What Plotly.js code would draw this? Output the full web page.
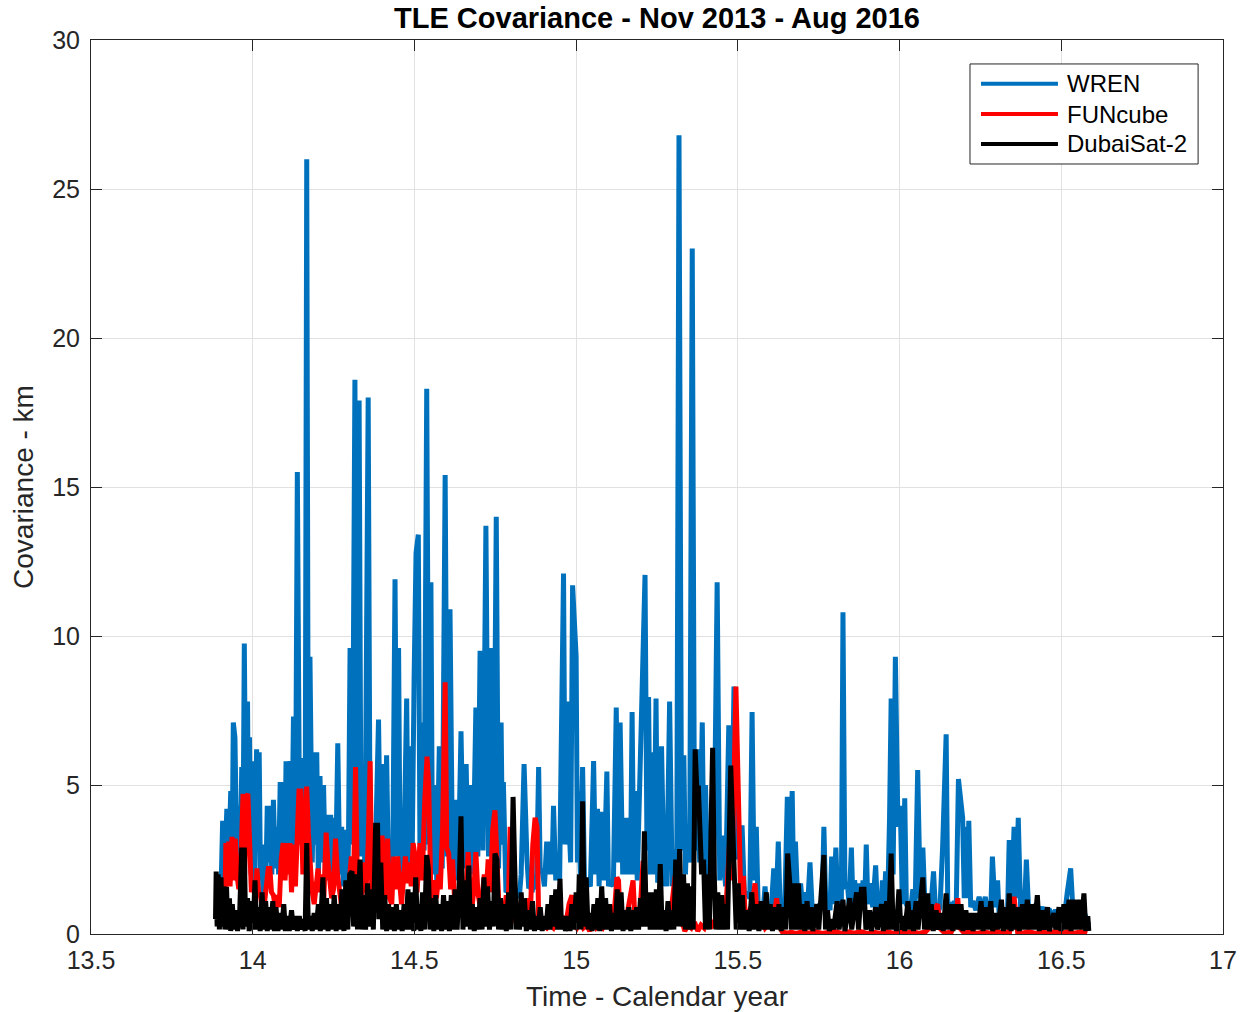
<!DOCTYPE html>
<html>
<head>
<meta charset="utf-8">
<script src="https://cdn.plot.ly/plotly-3.0.1.min.js"></script>
<style>
  html, body { margin: 0; padding: 0; background: #ffffff; }
  #chart { width: 1242px; height: 1012px; }
</style>
</head>
<body>
<div id="chart"></div>
<script>
// TLE covariance (km) against calendar year (yy.fraction) for three satellites

const seriesNames = ["WREN", "FUNcube", "DubaiSat-2"];
const seriesColors = ["#0072BD", "#FF0000", "#000000"];

const xTickVals = [13.5, 14, 14.5, 15, 15.5, 16, 16.5, 17];
const xTickText = ["13.5", "14", "14.5", "15", "15.5", "16", "16.5", "17"];
const yTickVals = [0, 5, 10, 15, 20, 25, 30];
const yTickText = ["0", "5", "10", "15", "20", "25", "30"];

// WREN
const wrenT = [
  13.900,13.907,13.913,13.920,13.926,13.932,13.936,13.940,13.945,13.952,
  13.959,13.962,13.966,13.970,13.974,13.979,13.984,13.987,13.990,13.995,
  13.999,14.006,14.012,14.016,14.020,14.024,14.028,14.032,14.036,14.040,
  14.045,14.049,14.054,14.059,14.064,14.070,14.076,14.080,14.085,14.090,
  14.095,14.099,14.103,14.109,14.115,14.120,14.126,14.132,14.138,14.145,
  14.150,14.157,14.162,14.167,14.172,14.177,14.184,14.190,14.194,14.198,
  14.203,14.208,14.213,14.219,14.225,14.231,14.236,14.241,14.245,14.249,
  14.256,14.263,14.269,14.275,14.280,14.284,14.292,14.296,14.301,14.308,
  14.316,14.322,14.329,14.335,14.342,14.347,14.357,14.363,14.373,14.380,
  14.389,14.395,14.402,14.408,14.414,14.420,14.427,14.433,14.440,14.446,
  14.451,14.456,14.461,14.468,14.476,14.481,14.487,14.493,14.499,14.505,
  14.512,14.517,14.523,14.530,14.538,14.545,14.551,14.556,14.561,14.569,
  14.577,14.586,14.595,14.602,14.610,14.618,14.626,14.635,14.644,14.652,
  14.660,14.666,14.672,14.681,14.690,14.696,14.703,14.712,14.721,14.729,
  14.737,14.745,14.753,14.760,14.768,14.772,14.775,14.783,14.791,14.798,
  14.805,14.811,14.818,14.824,14.830,14.839,14.848,14.853,14.858,14.864,
  14.870,14.877,14.884,14.889,14.894,14.902,14.909,14.915,14.920,14.925,
  14.930,14.937,14.945,14.949,14.953,14.961,14.966,14.971,14.976,14.983,
  14.989,15.000,15.004,15.007,15.013,15.020,15.026,15.033,15.044,15.054,
  15.060,15.066,15.071,15.076,15.086,15.095,15.100,15.105,15.115,15.124,
  15.130,15.136,15.144,15.152,15.157,15.162,15.168,15.173,15.178,15.182,
  15.189,15.196,15.206,15.213,15.219,15.224,15.229,15.234,15.240,15.247,
  15.252,15.258,15.264,15.272,15.276,15.280,15.289,15.297,15.305,15.311,
  15.318,15.326,15.333,15.338,15.343,15.351,15.359,15.366,15.374,15.382,
  15.390,15.395,15.400,15.407,15.415,15.425,15.436,15.444,15.452,15.462,
  15.472,15.480,15.488,15.500,15.513,15.520,15.529,15.537,15.544,15.550,
  15.557,15.563,15.570,15.577,15.584,15.590,15.596,15.603,15.611,15.618,
  15.625,15.631,15.637,15.645,15.653,15.660,15.668,15.673,15.678,15.686,
  15.694,15.701,15.709,15.715,15.723,15.730,15.738,15.746,15.754,15.760,
  15.766,15.772,15.779,15.785,15.790,15.796,15.803,15.809,15.815,15.820,
  15.825,15.831,15.838,15.844,15.851,15.856,15.861,15.869,15.877,15.882,
  15.887,15.892,15.897,15.902,15.908,15.917,15.926,15.932,15.938,15.942,
  15.947,15.952,15.957,15.963,15.969,15.974,15.980,15.987,15.995,16.002,
  16.009,16.016,16.021,16.026,16.033,16.041,16.048,16.056,16.064,16.072,
  16.079,16.087,16.096,16.105,16.111,16.118,16.125,16.133,16.144,16.149,
  16.154,16.161,16.169,16.175,16.182,16.195,16.200,16.205,16.209,16.214,
  16.220,16.226,16.236,16.246,16.255,16.265,16.271,16.277,16.282,16.287,
  16.295,16.303,16.308,16.313,16.320,16.329,16.334,16.339,16.346,16.354,
  16.360,16.367,16.374,16.380,16.386,16.392,16.399,16.406,16.413,16.421,
  16.431,16.441,16.451,16.462,16.472,16.482,16.492,16.503,16.510,16.518,
  16.529,16.536,16.544,16.555,16.565,16.575,16.585
];
const wrenV = [
  0.5,3.8,2.0,4.2,2.4,4.8,2.2,7.1,6.6,1.8,
  4.3,2.5,5.6,3.0,9.75,3.2,7.8,2.8,6.6,2.0,
  5.8,1.6,6.2,2.8,6.1,1.8,3.0,1.2,2.2,1.4,
  4.3,2.4,4.3,2.0,4.5,2.2,3.6,2.0,5.1,2.4,
  5.1,2.0,5.8,2.6,5.8,2.0,7.3,2.8,15.5,3.0,
  5.3,5.9,2.2,26.0,3.0,9.3,2.4,6.1,3.0,6.1,
  1.8,5.3,2.4,5.0,1.8,4.0,2.3,4.0,1.8,3.9,
  1.8,6.4,2.0,3.6,1.6,3.5,1.2,3.0,9.6,3.0,
  18.6,3.5,17.9,2.6,4.8,2.0,18.0,2.6,1.5,3.0,
  7.2,2.4,5.7,2.8,6.0,1.8,1.5,2.5,11.9,2.6,
  9.6,1.8,1.4,3.0,7.9,2.2,6.3,2.6,8.6,12.8,
  13.4,3.0,7.1,2.8,18.3,3.0,11.8,2.0,5.0,1.8,
  6.3,2.2,15.4,2.6,10.9,2.0,4.5,1.8,6.8,2.2,
  5.7,1.8,5.0,2.0,7.6,2.6,9.5,2.8,13.7,2.6,
  9.6,2.6,14.0,2.2,7.1,3.0,5.1,1.4,1.5,1.0,
  2.2,1.4,1.5,1.2,2.0,5.7,2.5,1.6,1.6,1.4,
  2.0,1.5,5.6,2.0,2.2,1.6,3.1,2.0,3.1,2.0,
  4.3,1.8,2.7,1.8,5.5,12.1,3.0,7.8,4.2,2.4,
  11.7,9.3,2.4,4.8,2.0,5.6,1.6,1.8,1.6,5.8,
  2.0,4.2,1.6,4.1,1.8,5.45,1.6,1.8,1.6,7.6,
  2.4,7.1,2.0,3.9,2.0,3.9,2.0,7.45,2.0,4.8,
  1.8,4.8,10.2,12.05,2.8,7.95,2.0,6.1,2.0,7.9,
  1.8,1.8,6.3,1.6,2.85,1.6,7.8,1.6,2.85,1.8,
  26.8,2.8,6.0,2.0,3.7,2.4,23.0,2.8,6.2,2.4,
  7.1,2.4,5.0,1.6,1.35,1.2,11.8,1.8,3.3,1.6,
  7.0,2.4,8.3,2.5,3.65,1.4,1.35,1.2,7.45,1.8,
  3.6,0.8,0.9,0.6,1.6,0.7,1.0,0.8,2.2,0.9,
  3.1,0.8,1.2,0.9,4.6,1.5,4.8,1.2,3.1,0.8,
  1.7,0.8,1.4,0.8,2.4,0.8,0.6,0.9,1.0,0.8,
  3.6,0.9,1.0,0.8,2.6,1.0,2.9,1.0,1.8,1.0,
  10.8,1.5,1.75,1.0,2.9,1.0,1.8,0.9,1.7,1.0,
  1.8,1.0,3.0,1.0,1.7,0.9,2.3,0.8,0.9,0.8,
  1.8,1.0,2.1,1.0,3.9,7.9,2.0,9.3,3.6,4.3,
  1.0,4.55,1.0,0.9,0.7,1.5,0.9,5.5,1.2,2.9,
  0.8,0.7,0.8,2.1,0.8,0.7,0.9,2.9,6.7,1.0,
  1.0,0.8,1.1,0.8,5.2,3.9,1.2,3.6,1.2,3.8,
  0.9,1.1,0.8,1.25,0.8,1.25,0.8,1.1,0.8,2.6,
  0.9,1.8,0.6,0.5,0.6,0.7,0.8,3.15,1.0,3.6,
  1.2,3.9,0.9,1.0,0.8,2.5,0.8,0.9,0.7,1.0,
  0.7,0.9,0.6,0.85,0.6,0.8,0.6,0.7,0.6,1.36,
  2.2,0.8,1.1,0.7,0.9,0.6,0.3
];

// FUNcube
const funcubeT = [
  13.913,13.917,13.921,13.926,13.930,13.936,13.941,13.946,13.951,13.957,
  13.964,13.970,13.975,13.980,13.985,13.990,13.996,14.002,14.008,14.013,
  14.018,14.024,14.030,14.036,14.042,14.048,14.053,14.058,14.064,14.070,
  14.076,14.082,14.088,14.094,14.100,14.106,14.111,14.115,14.120,14.126,
  14.132,14.138,14.143,14.149,14.155,14.161,14.167,14.172,14.177,14.183,
  14.190,14.196,14.202,14.208,14.214,14.220,14.227,14.232,14.238,14.244,
  14.250,14.256,14.262,14.268,14.274,14.280,14.286,14.292,14.298,14.305,
  14.312,14.318,14.324,14.330,14.336,14.343,14.350,14.357,14.363,14.368,
  14.373,14.378,14.385,14.392,14.400,14.406,14.411,14.417,14.423,14.430,
  14.436,14.442,14.448,14.454,14.460,14.466,14.472,14.478,14.484,14.490,
  14.496,14.502,14.508,14.517,14.524,14.532,14.539,14.544,14.550,14.556,
  14.562,14.568,14.575,14.580,14.587,14.595,14.600,14.606,14.612,14.618,
  14.624,14.630,14.636,14.644,14.652,14.660,14.666,14.672,14.678,14.684,
  14.690,14.696,14.702,14.709,14.716,14.722,14.728,14.735,14.742,14.749,
  14.755,14.761,14.768,14.776,14.784,14.790,14.796,14.802,14.810,14.818,
  14.826,14.834,14.842,14.850,14.858,14.866,14.873,14.879,14.884,14.892,
  14.900,14.910,14.920,14.930,14.940,14.950,14.960,14.968,14.978,14.987,
  14.994,15.002,15.012,15.022,15.032,15.042,15.052,15.062,15.072,15.082,
  15.092,15.100,15.110,15.120,15.126,15.131,15.136,15.145,15.155,15.163,
  15.170,15.176,15.182,15.190,15.198,15.207,15.213,15.220,15.228,15.236,
  15.244,15.252,15.260,15.268,15.276,15.284,15.292,15.300,15.306,15.312,
  15.320,15.328,15.336,15.346,15.356,15.366,15.376,15.386,15.396,15.406,
  15.416,15.426,15.436,15.446,15.456,15.464,15.470,15.476,15.482,15.488,
  15.494,15.499,15.505,15.511,15.517,15.523,15.530,15.537,15.545,15.553,
  15.560,15.568,15.576,15.584,15.592,15.600,15.608,15.615,15.620,15.627,
  15.637,15.650,15.665,15.680,15.700,15.720,15.740,15.760,15.780,15.800,
  15.820,15.840,15.860,15.880,15.900,15.920,15.940,15.960,15.980,16.000,
  16.020,16.040,16.060,16.080,16.100,16.112,16.118,16.124,16.140,16.160,
  16.175,16.180,16.186,16.200,16.220,16.240,16.260,16.280,16.300,16.320,
  16.340,16.350,16.354,16.358,16.365,16.380,16.400,16.420,16.440,16.460,
  16.480,16.500,16.520,16.540,16.560,16.580
];
const funcubeV = [
  0.3,3.05,1.8,3.1,1.6,3.26,1.8,3.2,2.0,1.5,
  2.5,4.7,2.0,4.6,4.7,2.7,1.4,1.8,1.0,2.2,
  1.4,1.3,0.8,1.0,1.5,2.2,2.2,1.4,1.3,0.9,
  1.3,0.9,2.5,3.05,1.8,3.05,2.0,3.05,1.4,3.0,
  1.6,3.2,4.8,4.8,2.0,3.5,4.95,3.4,2.6,1.5,
  1.0,1.5,2.2,1.4,2.0,1.2,3.4,2.5,1.6,1.2,
  1.5,3.2,2.0,1.4,1.0,1.3,1.2,0.9,2.0,2.6,
  1.8,5.6,1.4,1.3,0.9,2.4,1.4,3.0,5.8,1.4,
  1.2,0.9,2.5,1.5,3.3,1.6,1.3,3.2,1.2,1.0,
  2.6,1.5,2.6,1.6,1.0,1.8,2.6,1.7,2.4,1.6,
  3.05,2.6,1.4,3.05,1.8,4.5,5.95,5.1,1.8,1.2,
  1.8,1.2,2.0,1.5,3.5,8.45,2.9,2.7,1.5,2.5,
  1.2,1.5,0.8,1.8,1.2,1.5,2.75,1.4,0.9,1.5,
  2.75,1.4,1.0,1.2,2.0,1.4,2.5,1.4,3.5,4.15,
  2.5,1.0,0.5,0.6,1.3,0.8,3.6,1.0,0.4,0.5,
  0.3,0.9,0.5,1.2,0.5,3.0,3.9,3.6,0.6,0.2,
  0.3,0.2,0.3,0.2,0.4,0.2,0.6,0.3,1.0,1.3,
  0.3,0.2,0.4,0.2,0.3,0.1,0.4,0.2,0.3,0.2,
  0.4,0.2,0.6,1.0,1.9,1.8,0.5,0.2,0.5,1.0,
  1.6,1.8,0.4,0.2,0.8,2.45,1.2,0.4,0.6,0.3,
  0.8,0.3,0.6,0.2,0.5,0.3,0.6,1.5,1.95,0.8,
  0.3,0.4,0.1,0.3,0.2,0.4,0.1,0.3,0.2,0.5,
  0.2,0.4,0.3,0.6,0.4,1.0,2.5,3.4,1.8,5.5,
  8.3,5.9,2.0,0.3,1.95,0.5,0.2,0.8,1.0,1.7,
  0.6,0.2,0.4,0.2,0.3,0.5,0.3,0.8,1.2,0.3,
  0.08,0.03,0.06,0.02,0.07,0.03,0.08,0.02,0.05,0.09,
  0.02,0.07,0.03,0.08,0.02,0.06,0.03,0.09,0.02,0.07,
  0.03,0.08,0.02,0.07,0.3,0.9,1.0,0.2,0.03,0.07,
  0.5,1.2,0.2,0.03,0.08,0.02,0.07,0.03,0.09,0.02,
  0.07,0.8,1.25,0.8,0.07,0.03,0.08,0.02,0.07,0.03,
  0.08,0.02,0.07,0.03,0.07,0.02
];

// DubaiSat-2
const dubaisatT = [
  13.885,13.887,13.890,13.893,13.897,13.902,13.906,13.910,13.914,13.919,
  13.923,13.928,13.932,13.937,13.942,13.948,13.953,13.960,13.966,13.970,
  13.974,13.978,13.984,13.989,13.995,14.001,14.007,14.012,14.018,14.023,
  14.029,14.034,14.040,14.045,14.050,14.056,14.062,14.067,14.072,14.078,
  14.084,14.090,14.096,14.101,14.107,14.113,14.120,14.126,14.132,14.138,
  14.144,14.150,14.156,14.162,14.167,14.172,14.178,14.184,14.190,14.196,
  14.203,14.209,14.217,14.222,14.228,14.233,14.240,14.246,14.252,14.258,
  14.264,14.270,14.276,14.282,14.288,14.294,14.300,14.307,14.312,14.318,
  14.324,14.332,14.337,14.343,14.349,14.355,14.361,14.368,14.373,14.380,
  14.386,14.390,14.396,14.402,14.408,14.414,14.420,14.426,14.432,14.438,
  14.444,14.450,14.456,14.462,14.468,14.474,14.480,14.486,14.492,14.498,
  14.504,14.510,14.514,14.520,14.525,14.531,14.538,14.543,14.548,14.554,
  14.560,14.566,14.572,14.578,14.584,14.590,14.596,14.602,14.608,14.614,
  14.620,14.626,14.632,14.638,14.644,14.650,14.656,14.662,14.668,14.673,
  14.679,14.685,14.691,14.697,14.703,14.709,14.715,14.720,14.726,14.732,
  14.738,14.744,14.749,14.755,14.760,14.766,14.772,14.778,14.784,14.791,
  14.798,14.805,14.810,14.815,14.820,14.825,14.830,14.836,14.840,14.846,
  14.852,14.858,14.865,14.871,14.877,14.883,14.889,14.895,14.901,14.907,
  14.913,14.919,14.925,14.931,14.937,14.943,14.950,14.955,14.961,14.967,
  14.975,14.981,14.987,14.993,15.000,15.005,15.010,15.015,15.020,15.025,
  15.031,15.037,15.043,15.049,15.055,15.061,15.067,15.073,15.079,15.085,
  15.091,15.097,15.103,15.109,15.115,15.121,15.127,15.133,15.139,15.145,
  15.151,15.157,15.163,15.169,15.175,15.181,15.187,15.193,15.199,15.205,
  15.211,15.217,15.223,15.229,15.236,15.242,15.248,15.254,15.260,15.266,
  15.272,15.278,15.284,15.290,15.296,15.302,15.308,15.314,15.320,15.326,
  15.332,15.338,15.344,15.350,15.356,15.362,15.368,15.373,15.378,15.383,
  15.388,15.394,15.400,15.405,15.412,15.417,15.422,15.427,15.432,15.438,
  15.444,15.450,15.456,15.462,15.468,15.473,15.478,15.484,15.490,15.495,
  15.501,15.507,15.514,15.520,15.528,15.535,15.543,15.550,15.558,15.565,
  15.572,15.580,15.588,15.594,15.600,15.607,15.614,15.620,15.627,15.634,
  15.641,15.648,15.654,15.660,15.666,15.673,15.680,15.687,15.694,15.700,
  15.707,15.714,15.720,15.726,15.732,15.744,15.750,15.766,15.771,15.777,
  15.783,15.790,15.796,15.807,15.813,15.825,15.831,15.846,15.852,15.867,
  15.873,15.882,15.890,15.896,15.907,15.913,15.926,15.932,15.944,15.950,
  15.960,15.966,15.974,15.980,15.985,15.990,15.998,16.004,16.010,16.016,
  16.026,16.032,16.036,16.043,16.051,16.057,16.067,16.072,16.077,16.087,
  16.092,16.098,16.104,16.113,16.119,16.129,16.135,16.144,16.150,16.159,
  16.165,16.175,16.181,16.190,16.196,16.205,16.211,16.221,16.227,16.236,
  16.242,16.252,16.258,16.267,16.273,16.282,16.288,16.298,16.304,16.315,
  16.321,16.329,16.334,16.339,16.345,16.351,16.357,16.364,16.370,16.380,
  16.386,16.395,16.401,16.410,16.416,16.426,16.432,16.441,16.447,16.457,
  16.463,16.477,16.483,16.493,16.499,16.508,16.514,16.524,16.530,16.539,
  16.545,16.555,16.561,16.570,16.576,16.582,16.585
];
const dubaisatV = [
  0.5,2.1,0.25,2.0,0.15,1.9,0.25,1.6,0.15,1.58,
  0.15,1.2,0.1,1.0,0.15,0.8,0.1,0.8,2.9,0.15,
  2.9,0.25,1.2,0.1,1.1,0.15,1.8,0.15,0.9,0.1,
  1.4,0.15,1.1,0.1,0.9,0.15,1.1,0.1,0.9,0.1,
  0.7,0.15,1.0,0.1,0.6,0.1,0.8,0.15,0.6,0.1,
  0.6,0.15,0.5,0.1,3.05,0.15,0.6,0.1,0.7,0.15,
  1.0,0.1,1.9,0.15,1.2,0.1,1.0,0.15,1.3,0.1,
  1.0,0.15,1.5,0.1,1.8,0.15,2.0,2.1,0.25,2.0,
  0.15,2.5,0.15,1.3,0.15,1.7,0.25,1.5,0.15,3.65,
  3.65,0.5,2.4,0.15,1.3,0.1,1.0,0.15,0.9,0.1,
  1.0,0.15,0.8,0.1,1.0,0.15,1.5,0.15,1.4,0.1,
  1.9,0.15,1.0,0.1,1.4,0.15,2.65,2.2,0.15,1.2,
  0.1,1.3,0.15,1.0,0.1,1.3,0.15,1.1,0.1,1.3,
  0.15,1.5,0.15,1.5,3.95,0.15,1.8,0.25,2.3,0.15,
  1.0,0.1,0.9,0.15,1.2,0.15,1.9,0.25,1.6,0.15,
  1.1,0.25,2.7,2.5,0.15,1.2,0.15,1.0,0.1,1.4,
  0.15,4.6,2.3,0.15,1.0,0.15,1.4,0.25,1.2,0.1,
  0.8,0.15,1.1,0.1,0.6,0.15,0.9,0.1,0.6,0.15,
  1.0,0.15,1.3,0.25,1.5,0.15,1.85,0.15,0.6,0.1,
  0.6,0.1,1.0,0.15,1.4,0.15,2.0,0.15,4.45,0.25,
  1.9,0.15,0.7,0.1,1.0,0.15,1.2,0.1,1.6,0.15,
  1.2,0.15,1.0,0.1,0.7,0.15,1.5,0.15,1.4,0.1,
  0.8,0.15,0.9,0.1,0.8,0.15,0.9,0.15,1.2,0.25,
  3.45,0.25,1.4,0.15,1.4,0.15,1.5,0.15,2.35,0.15,
  0.8,0.1,1.1,0.15,0.8,0.15,2.5,0.25,2.85,0.25,
  2.0,0.15,1.7,0.15,1.6,0.15,6.2,4.9,4.9,3.35,
  2.0,2.5,0.15,2.0,0.15,3.5,6.25,2.0,0.15,1.4,
  0.15,1.3,0.15,1.0,0.15,3.0,5.65,3.6,2.2,0.15,
  1.7,0.15,1.3,0.15,0.8,0.1,1.4,0.15,1.0,0.1,
  1.1,0.15,1.4,0.15,1.0,0.1,0.9,0.15,1.0,0.1,
  0.9,0.15,2.7,1.8,0.15,1.7,0.15,1.7,0.15,1.0,
  0.1,1.1,0.15,0.9,0.1,1.0,0.15,2.65,0.15,0.8,
  0.1,0.5,0.15,1.1,0.15,1.15,0.1,1.2,0.15,1.4,
  0.15,1.5,1.5,0.15,0.8,0.1,0.9,0.15,1.0,0.1,
  1.1,0.15,2.7,0.15,0.8,0.1,1.5,0.15,0.6,0.1,
  1.1,0.15,0.8,0.1,1.1,0.15,1.36,1.9,0.15,1.36,
  0.15,1.0,0.1,0.8,0.15,0.7,0.1,1.36,0.15,1.0,
  0.1,1.0,0.15,1.0,0.1,0.8,0.15,0.7,0.1,0.7,
  0.15,1.1,0.1,0.9,0.15,1.1,0.1,0.7,0.15,1.15,
  0.1,0.9,0.15,1.36,0.1,1.0,0.15,0.9,0.1,1.0,
  0.15,1.15,0.15,1.0,0.15,1.3,0.1,0.8,0.15,0.9,
  0.1,0.7,0.15,0.9,0.1,1.0,0.15,1.15,0.1,1.15,
  0.15,1.15,0.15,1.36,0.1,0.6,0.1
];

const seriesT = [wrenT, funcubeT, dubaisatT];
const seriesV = [wrenV, funcubeV, dubaisatV];

const traces = seriesNames.map((name, i) => ({
  type: "scatter",
  mode: "lines",
  name: name,
  x: seriesT[i],
  y: seriesV[i],
  line: { color: seriesColors[i], width: 5 },
  showlegend: false,
  hoverinfo: "x+y+name"
}));

// Boxed key in the top-right corner of the axes
const keyBox = { x0: 0.7765, x1: 0.978, y0: 0.8613, y1: 0.9732 };
const keyRows = [0.951, 0.9172, 0.8837];
const keyLine = { x0: 0.7862, x1: 0.8542 };
const keyTextX = 0.8600;

const shapes = [{
  type: "rect", xref: "paper", yref: "paper",
  x0: keyBox.x0, x1: keyBox.x1, y0: keyBox.y0, y1: keyBox.y1,
  line: { color: "#262626", width: 1 }, fillcolor: "#ffffff", layer: "above"
}];
const annotations = [];
seriesNames.forEach((name, i) => {
  shapes.push({
    type: "line", xref: "paper", yref: "paper",
    x0: keyLine.x0, x1: keyLine.x1, y0: keyRows[i], y1: keyRows[i],
    line: { color: seriesColors[i], width: 4 }, layer: "above"
  });
  annotations.push({
    xref: "paper", yref: "paper", x: keyTextX, y: keyRows[i],
    xanchor: "left", yanchor: "middle", showarrow: false,
    text: name, font: { size: 24, color: "#000000" }
  });
});

const axisCommon = {
  ticks: "inside",
  ticklen: 11,
  tickwidth: 1,
  tickcolor: "#262626",
  showline: true,
  linecolor: "#262626",
  linewidth: 1,
  mirror: "ticks",
  showgrid: true,
  gridcolor: "#e1e1e1",
  gridwidth: 1,
  zeroline: false,
  automargin: false,
  tickfont: { size: 25, color: "#262626" }
};

const layout = {
  width: 1242,
  height: 1012,
  margin: { l: 91, r: 19, t: 40, b: 78 },
  paper_bgcolor: "#ffffff",
  plot_bgcolor: "#ffffff",
  font: { family: "Liberation Sans, Arial, Helvetica, sans-serif", color: "#262626" },
  title: {
    text: "<b>TLE Covariance - Nov 2013 - Aug 2016</b>",
    font: { size: 29, color: "#000000" },
    x: 0.5, xref: "paper", xanchor: "center",
    y: 0.982, yref: "container", yanchor: "middle"
  },
  xaxis: Object.assign({}, axisCommon, {
    range: [13.5, 17],
    tickmode: "array",
    tickvals: xTickVals,
    ticktext: xTickText,
    ticklabelstandoff: 4,
    title: { text: "Time - Calendar year", font: { size: 28, color: "#262626" }, standoff: 14 }
  }),
  yaxis: Object.assign({}, axisCommon, {
    range: [0, 30],
    tickmode: "array",
    tickvals: yTickVals,
    ticktext: yTickText,
    ticklabelstandoff: 5,
    title: { text: "Covariance - km", font: { size: 28, color: "#262626" }, standoff: 10 }
  }),
  shapes: shapes,
  annotations: annotations,
  showlegend: false
};

Plotly.newPlot("chart", traces, layout, { displayModeBar: false, staticPlot: true });
</script>
</body>
</html>
